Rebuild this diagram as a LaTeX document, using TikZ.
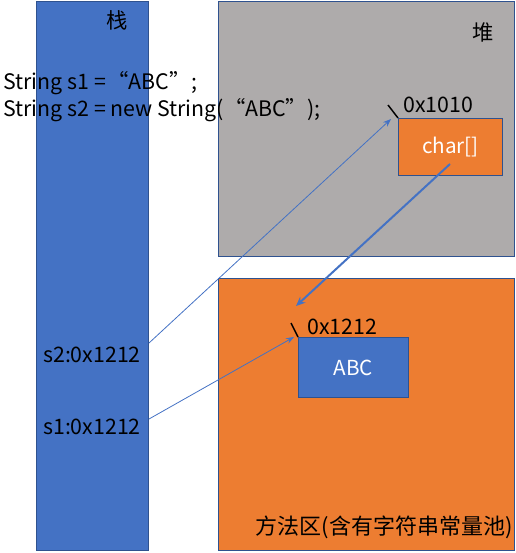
\documentclass[tikz,border=0pt]{standalone}
\usepackage{fontspec}
\setmainfont{Noto Sans CJK SC}
\usetikzlibrary{arrows.meta}
\definecolor{zhanblue}{HTML}{4472C4}
\definecolor{bianblue}{HTML}{2F528F}
\definecolor{duigray}{HTML}{AEABAB}
\definecolor{fangorange}{HTML}{ED7D31}
\tikzset{
  quyu/.style={draw=bianblue,line width=0.75pt,anchor=north west,inner sep=0pt},
  chu/.style={text=white,font=\fontsize{15.5}{18}\selectfont},
  zi/.style={font=\fontsize{16}{18}\selectfont,inner sep=0pt},
  jiantou/.style={draw=zhanblue,line width=0.6pt,-{Stealth[length=6pt,width=4.5pt]}},
  dauvach/.style={line width=1.1pt}
}
\begin{document}
\begin{tikzpicture}[x=0.75pt,y=-0.75pt]
	\useasboundingbox (0,0) rectangle (516,553);
	%Khung ngan xep
	\node[quyu,fill=zhanblue,minimum width=84pt,minimum height=411.75pt] (zhan) at (36,1) {};
	\node[zi] (zhanming) at (117,20) {栈};
	%Khung heap
	\node[quyu,fill=duigray,minimum width=222pt,minimum height=191.25pt] (dui) at (218,1) {};
	\node[zi] (duiming) at (483,32) {堆};
	%Khung phuong phap
	\node[quyu,fill=fangorange,minimum width=222pt,minimum height=204pt] (fang) at (218,278) {};
	\node[zi,anchor=east,font=\fontsize{16.5}{18}\selectfont] (fangming) at (513,527) {方法区(含有字符串常量池)};
	%Ma nguon
	\node[zi,anchor=west] (dong1) at (3,83) {String s1 =\hspace{1pt}“ABC”\hspace{1pt};};
	\node[zi,anchor=west] (dong2) at (3,110) {String s2 = new String(“ABC”);};
	%Khung char[]
	\node[quyu,fill=fangorange,minimum width=78pt,minimum height=42.75pt] (chararr) at (398,118) {};
	\node[chu] at (chararr.center) {char[]};
	\node[zi,anchor=west] (dz1010) at (403,105) {0x1010};
	\draw[dauvach] (388,105) -- (chararr.north west);
	%Khung ABC
	\node[quyu,fill=zhanblue,minimum width=82.5pt,minimum height=45pt] (abc) at (298,337) {};
	\node[chu] at (abc.center) {ABC};
	\node[zi,anchor=west] (dz1212) at (307,327) {0x1212};
	\draw[dauvach] (291,323) -- (abc.north west);
	%Bien tren stack
	\node[zi] (s2) at (92,355) {s2:0x1212};
	\node[zi] (s1) at (92,427) {s1:0x1212};
	\coordinate (s2ra) at (zhan.east |- 0,343);
	\coordinate (s1ra) at (zhan.east |- 0,419);
	\coordinate (toi1010) at (391,119);
	\coordinate (toi1212) at (294,337);
	\coordinate (toichuoi) at (296,306);
	\coordinate (tuchar) at (450,164);
	%Mui ten
	\draw[jiantou] (s2ra) -- (toi1010);
	\draw[jiantou] (s1ra) -- (toi1212);
	\draw[jiantou,line width=1.5pt,-{Stealth[length=7pt,width=6pt]}] (tuchar) -- (toichuoi);
\end{tikzpicture}
\end{document}
